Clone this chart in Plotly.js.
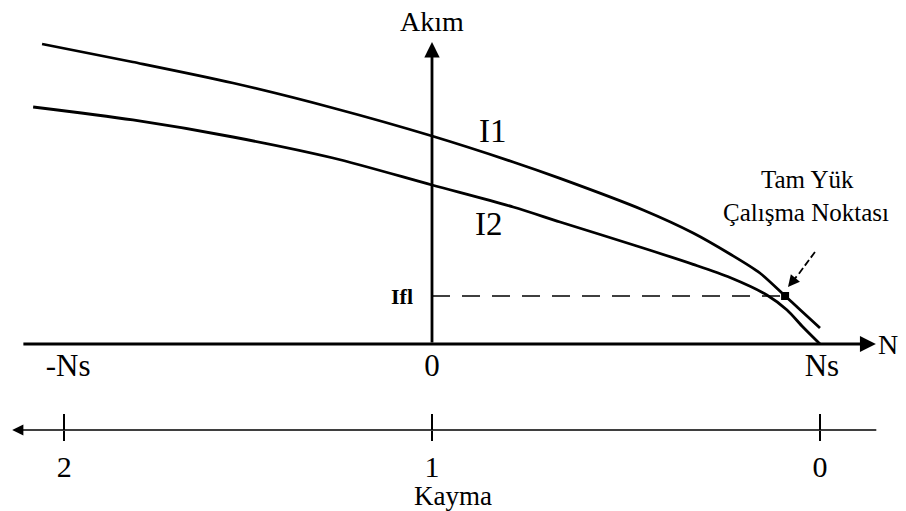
<!DOCTYPE html>
<html>
<head>
<meta charset="utf-8">
<script src="https://cdn.plot.ly/plotly-3.0.1.min.js"></script>
<style>html,body{margin:0;padding:0;background:#fff}</style>
</head>
<body>
<div id="chart" style="width:906px;height:511px"></div>
<script>
// Speed axis in units of Ns (0 = standstill, 1 = synchronous speed); current in units of Ifl
const i1Speed = [-1.005, -0.771, -0.513, -0.255, 0, 0.209, 0.330, 0.544, 0.673, 0.768, 0.845, 0.910, 0.948, 1.0];
const i1Current = [6.25, 5.875, 5.4375, 4.917, 4.333, 3.792, 3.45, 2.792, 2.3125, 1.875, 1.479, 1.0, 0.72, 0.333];
const i2Speed = [-1.028, -0.771, -0.513, -0.255, 0, 0.209, 0.330, 0.544, 0.673, 0.768, 0.863, 0.915, 0.956, 1.0];
const i2Current = [4.9375, 4.667, 4.3125, 3.875, 3.3125, 2.854, 2.542, 2.0, 1.66, 1.385, 1.021, 0.708, 0.354, 0.0];
// full-load operating point
const fullLoadSpeed = 0.910;
const fullLoadCurrent = 1.0;
// tick labels
const speedTickVals = [-0.938, 0, 1.005];
const speedTickText = ['-Ns', '0', 'Ns'];
const slipTickVals = [-0.948, 0, 1.0];
const slipTickText = ['2', '1', '0'];
const currentTickVals = [1];
const currentTickText = ['Ifl'];

const SERIF = 'Liberation Serif, Times New Roman, serif';
const xr = [-432/388, 474/388];
const yr = [(344-511)/48, 344/48];
const slipY = (344-430)/48;

const traces = [
  {x: i1Speed, y: i1Current, mode: 'lines', line: {color: '#000', width: 2.8, shape: 'spline', smoothing: 0.8}, hoverinfo: 'skip'},
  {x: i2Speed, y: i2Current, mode: 'lines', line: {color: '#000', width: 2.8, shape: 'spline', smoothing: 0.8}, hoverinfo: 'skip'},
  {x: [0, fullLoadSpeed], y: [fullLoadCurrent, fullLoadCurrent], mode: 'lines', line: {color: '#000', width: 1.6, dash: '18px,12px'}, hoverinfo: 'skip'},
  {x: [0.987, 0.945], y: [1.917, 1.458], mode: 'lines', line: {color: '#000', width: 1.8, dash: '7px,3px'}, hoverinfo: 'skip'},
  {x: [fullLoadSpeed], y: [fullLoadCurrent], mode: 'markers', marker: {color: '#000', size: 8, symbol: 'square'}, hoverinfo: 'skip'},
  // helper traces so the slip axes are drawn
  {x: [0], y: [slipY], xaxis: 'x2', yaxis: 'y', mode: 'markers', marker: {opacity: 0}, hoverinfo: 'skip'},
  {x: [0], y: [slipY], xaxis: 'x3', yaxis: 'y', mode: 'markers', marker: {opacity: 0}, hoverinfo: 'skip'}
];

const tf = (s) => ({family: SERIF, size: s, color: '#000'});

const layout = {
  width: 906, height: 511,
  margin: {l: 0, r: 0, t: 0, b: 0},
  paper_bgcolor: '#fff', plot_bgcolor: '#fff',
  showlegend: false,
  xaxis: {range: xr, anchor: 'free', position: (511-344)/511, showgrid: false, zeroline: false, showline: false,
          tickvals: speedTickVals, ticktext: speedTickText, ticks: '', tickfont: tf(31), ticklabelstandoff: 0, automargin: false},
  xaxis2: {range: xr, overlaying: 'x', anchor: 'free', position: (511-430)/511, showgrid: false, zeroline: false, showline: false,
           tickvals: slipTickVals, ticktext: slipTickText, ticks: 'outside', ticklen: 10, tickwidth: 2, tickcolor: '#000',
           tickfont: tf(30), ticklabelstandoff: 0, automargin: false,
           title: {text: 'Kayma', font: tf(27), standoff: 4}},
  xaxis3: {range: xr, overlaying: 'x', anchor: 'free', position: (511-430)/511, showgrid: false, zeroline: false, showline: false,
           tickvals: slipTickVals, showticklabels: false, ticks: 'inside', ticklen: 16, tickwidth: 2, tickcolor: '#000', automargin: false},
  yaxis: {range: yr, anchor: 'free', position: 432/906, showgrid: false, zeroline: false, showline: false,
          tickvals: currentTickVals, ticktext: currentTickText, ticks: '', tickfont: Object.assign(tf(22), {weight: 700}),
          ticklabelstandoff: 19, automargin: false},
  annotations: [
    // axes drawn as arrows
    {x: 1.144, y: 0, ax: -1.057, ay: 0, xref: 'x', yref: 'y', axref: 'x', ayref: 'y', showarrow: true, arrowhead: 2, arrowsize: 1.1, arrowwidth: 2.9, arrowcolor: '#000', text: ''},
    {x: 0, y: (344-42)/48, ax: 0, ay: 0, xref: 'x', yref: 'y', axref: 'x', ayref: 'y', showarrow: true, arrowhead: 2, arrowsize: 1.1, arrowwidth: 2.8, arrowcolor: '#000', text: ''},
    {x: -1.082, y: slipY, ax: 1.149, ay: slipY, xref: 'x', yref: 'y', axref: 'x', ayref: 'y', showarrow: true, arrowhead: 2, arrowsize: 1.4, arrowwidth: 1.6, arrowcolor: '#000', text: ''},
    {x: 0.9175, y: 1.1875, ax: 0.943, ay: 1.44, xref: 'x', yref: 'y', axref: 'x', ayref: 'y', showarrow: true, arrowhead: 2, arrowsize: 1.3, arrowwidth: 1.8, arrowcolor: '#000', text: ''},
    // labels
    {x: 0, y: (344-21)/48, xref: 'x', yref: 'y', text: 'Akım', showarrow: false, font: tf(28)},
    {x: (888-432)/388, y: 0.0, xref: 'x', yref: 'y', text: 'N', showarrow: false, font: tf(28)},
    {x: (493-432)/388, y: (344-131)/48, xref: 'x', yref: 'y', text: 'I1', showarrow: false, font: tf(33)},
    {x: (489-432)/388, y: (344-224)/48, xref: 'x', yref: 'y', text: 'I2', showarrow: false, font: tf(33)},
    {x: (807-432)/388, y: (344-179)/48, xref: 'x', yref: 'y', text: 'Tam Yük', showarrow: false, font: tf(25)},
    {x: (806-432)/388, y: (344-212)/48, xref: 'x', yref: 'y', text: 'Çalışma Noktası', showarrow: false, font: tf(25)}
  ]
};

Plotly.newPlot('chart', traces, layout, {staticPlot: true, displayModeBar: false});
</script>
</body>
</html>
